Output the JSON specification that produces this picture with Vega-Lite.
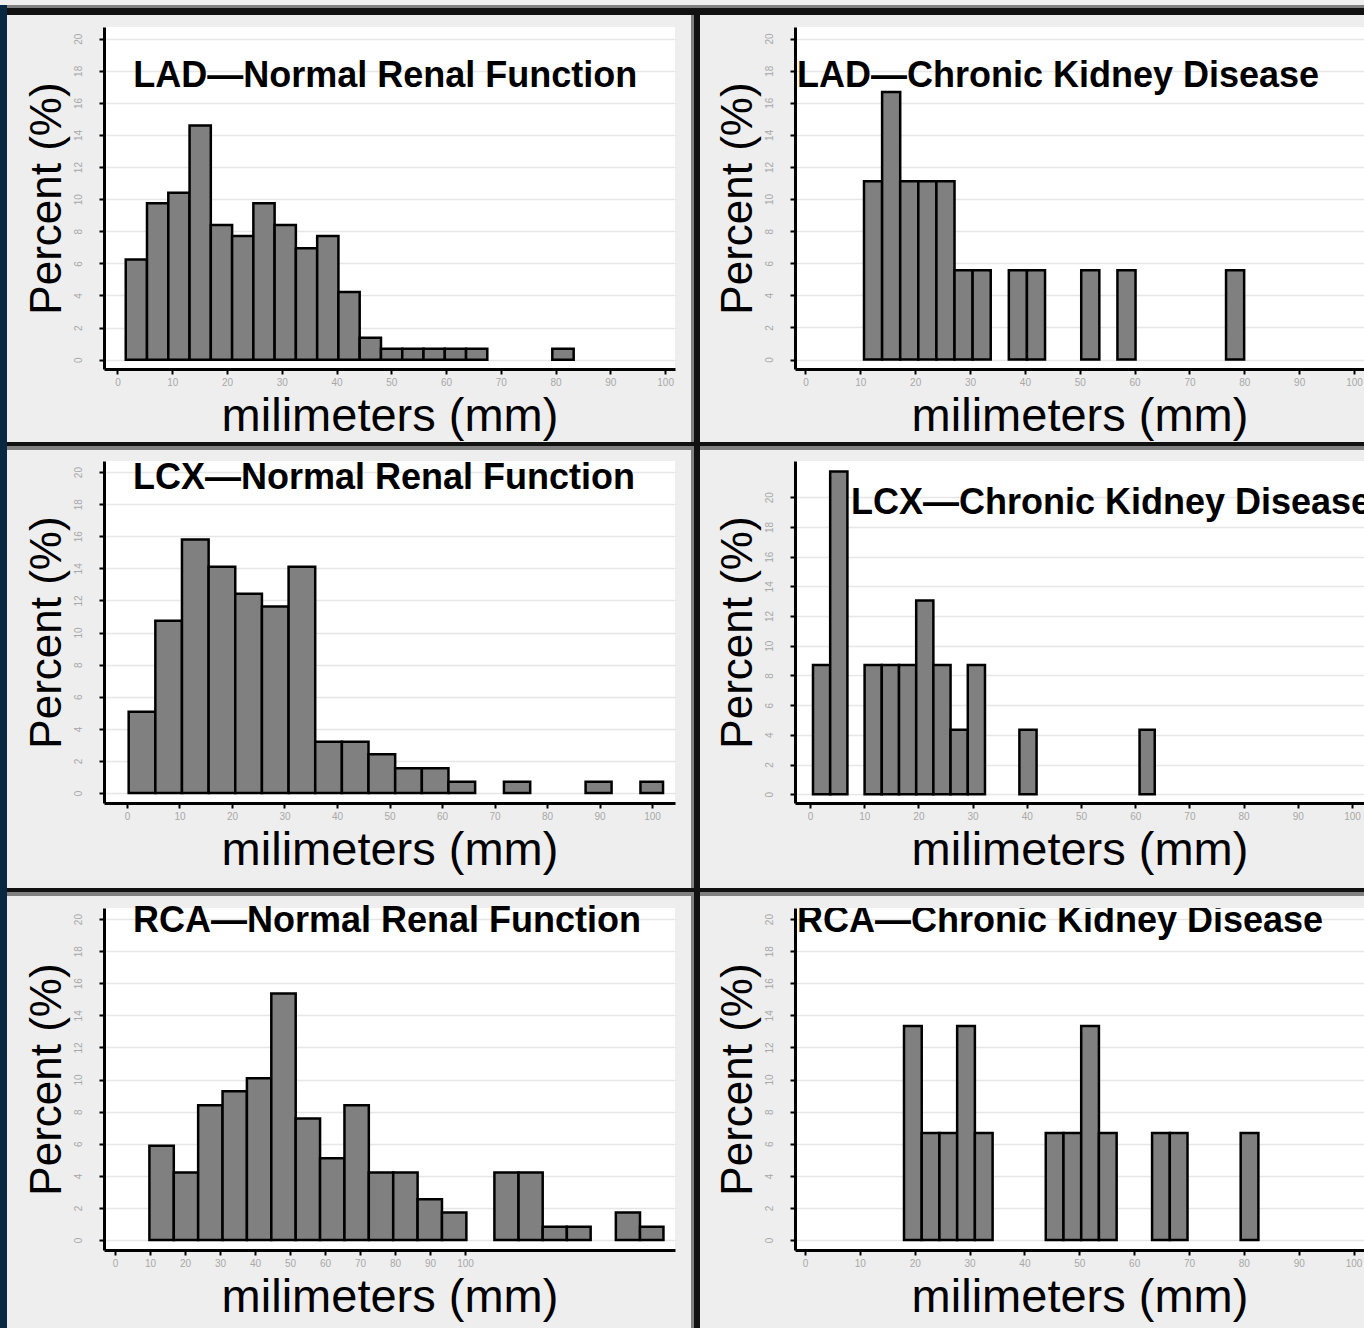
{
"$schema": "https://vega.github.io/schema/vega-lite/v6.json",
"background": "#eeeeee",
"padding": 0,
"data": {"values": [{}]},
"columns": 8,
"spacing": 0,
"bounds": "flush",
"align": "each",
"config": {
 "view": {"stroke": null},
 "axis": {"domainColor": "#000000", "domainWidth": 3, "tickColor": "#000000", "tickWidth": 2, "tickSize": 5, "labelColor": "#a8a8a8", "labelFont": "Liberation Sans", "labelFontSize": 10, "titleFont": "Liberation Sans", "titleFontWeight": "normal", "titleColor": "#000000", "gridColor": "#e6e6e6", "gridWidth": 1.5, "labelOverlap": false, "labelFlush": false},
 "axisX": {"grid": false, "tickCount": 12, "labelPadding": 8, "labelBaseline": "middle", "labelAngle": 0, "titleFontSize": 47, "titleBaseline": "alphabetic", "titleY": 61},
 "axisY": {"grid": true, "tickCount": 12, "labelAngle": -90, "labelAlign": "center", "labelBaseline": "middle", "labelPadding": 21, "titleFontSize": 44, "titleBaseline": "alphabetic", "titleX": -44}
},
"concat": [
 {"width":7,"height":3,"view":{"fill":"#0a2742"},"mark":{"type":"text","text":""}},
 {"width":97,"height":3,"view":{"fill":"#808080"},"mark":{"type":"text","text":""}},
 {"width":571,"height":3,"view":{"fill":"#808080"},"mark":{"type":"text","text":""}},
 {"width":16,"height":3,"view":{"fill":"#808080"},"mark":{"type":"text","text":""}},
 {"width":3,"height":3,"view":{"fill":"#808080"},"mark":{"type":"text","text":""}},
 {"width":6,"height":3,"view":{"fill":"#808080"},"mark":{"type":"text","text":""}},
 {"width":95,"height":3,"view":{"fill":"#808080"},"mark":{"type":"text","text":""}},
 {"width":569,"height":3,"view":{"fill":"#808080"},"mark":{"type":"text","text":""}},

 {"width":7,"height":7,"view":{"fill":"#0a2742"},"mark":{"type":"text","text":""}},
 {"width":97,"height":7,"view":{"fill":"#111111"},"mark":{"type":"text","text":""}},
 {"width":571,"height":7,"view":{"fill":"#111111"},"mark":{"type":"text","text":""}},
 {"width":16,"height":7,"view":{"fill":"#111111"},"mark":{"type":"text","text":""}},
 {"width":3,"height":7,"view":{"fill":"#111111"},"mark":{"type":"text","text":""}},
 {"width":6,"height":7,"view":{"fill":"#111111"},"mark":{"type":"text","text":""}},
 {"width":95,"height":7,"view":{"fill":"#111111"},"mark":{"type":"text","text":""}},
 {"width":569,"height":7,"view":{"fill":"#111111"},"mark":{"type":"text","text":""}},

 {"width":7,"height":12,"view":{"fill":"#0a2742"},"mark":{"type":"text","text":""}},
 {"width":1,"height":1,"mark":{"type":"text","text":""}},
 {"width":1,"height":1,"mark":{"type":"text","text":""}},
 {"width":1,"height":1,"mark":{"type":"text","text":""}},
 {"width":3,"height":12,"view":{"fill":"#808080"},"mark":{"type":"text","text":""}},
 {"width":6,"height":12,"view":{"fill":"#111111"},"mark":{"type":"text","text":""}},
 {"width":1,"height":1,"mark":{"type":"text","text":""}},
 {"width":1,"height":1,"mark":{"type":"text","text":""}},

 {"width":7,"height":342,"view":{"fill":"#0a2742"},"mark":{"type":"text","text":""}},
 {"width":1,"height":1,"mark":{"type":"text","text":""}},
 {"width":571,"height":342,"view":{"fill":"#ffffff"},
  "data":{"values":[{"start":1.52,"end":5.40,"pct":6.24},{"start":5.40,"end":9.29,"pct":9.75},{"start":9.29,"end":13.17,"pct":10.4},{"start":13.17,"end":17.05,"pct":14.6},{"start":17.05,"end":20.94,"pct":8.4},{"start":20.94,"end":24.82,"pct":7.7},{"start":24.82,"end":28.70,"pct":9.75},{"start":28.70,"end":32.58,"pct":8.4},{"start":32.58,"end":36.47,"pct":6.94},{"start":36.47,"end":40.35,"pct":7.7},{"start":40.35,"end":44.23,"pct":4.22},{"start":44.23,"end":48.12,"pct":1.37},{"start":48.12,"end":52.0,"pct":0.68},{"start":52.0,"end":55.88,"pct":0.68},{"start":55.88,"end":59.77,"pct":0.68},{"start":59.77,"end":63.65,"pct":0.68},{"start":63.65,"end":67.53,"pct":0.68},{"start":79.4,"end":83.3,"pct":0.68}]},
  "layer":[
   {"mark":{"type":"rect","fill":"#808080","stroke":"#000000","strokeWidth":2.5},
    "encoding":{
     "x":{"field":"start","type":"quantitative","scale":{"domain":[-2.45,101.8],"nice":false,"zero":false},"axis":{"title":"milimeters (mm)","values":[0,10,20,30,40,50,60,70,80,90,100]}},
     "x2":{"field":"end"},
     "y":{"field":"pct","type":"quantitative","scale":{"domain":[-0.58,20.73],"nice":false,"zero":false},"axis":{"title":"Percent (%)","values":[0,2,4,6,8,10,12,14,16,18,20]}},
     "y2":{"datum":0}}},
   {"data":{"values":[{"label":"LAD—Normal Renal Function"}]},
    "mark":{"type":"text","align":"left","baseline":"alphabetic","font":"Liberation Sans","fontWeight":"bold","fontSize":36,"color":"#000000"},
    "encoding":{"text":{"field":"label"},"x":{"datum":2.9},"y":{"datum":16.99}}}
  ]},
 {"width":1,"height":1,"mark":{"type":"text","text":""}},
 {"width":3,"height":342,"view":{"fill":"#808080"},"mark":{"type":"text","text":""}},
 {"width":6,"height":342,"view":{"fill":"#111111"},"mark":{"type":"text","text":""}},
 {"width":1,"height":1,"mark":{"type":"text","text":""}},
 {"width":569,"height":342,"view":{"fill":"#ffffff"},
  "data":{"values":[{"start":10.67,"end":13.97,"pct":11.11},{"start":13.97,"end":17.27,"pct":16.67},{"start":17.27,"end":20.57,"pct":11.11},{"start":20.57,"end":23.87,"pct":11.11},{"start":23.87,"end":27.17,"pct":11.11},{"start":27.17,"end":30.47,"pct":5.56},{"start":30.47,"end":33.77,"pct":5.56},{"start":37.07,"end":40.37,"pct":5.56},{"start":40.37,"end":43.67,"pct":5.56},{"start":50.27,"end":53.57,"pct":5.56},{"start":56.87,"end":60.17,"pct":5.56},{"start":76.67,"end":79.97,"pct":5.56}]},
  "layer":[
   {"mark":{"type":"rect","fill":"#808080","stroke":"#000000","strokeWidth":2.5},
    "encoding":{
     "x":{"field":"start","type":"quantitative","scale":{"domain":[-1.91,101.82],"nice":false,"zero":false},"axis":{"title":"milimeters (mm)","values":[0,10,20,30,40,50,60,70,80,90,100]}},
     "x2":{"field":"end"},
     "y":{"field":"pct","type":"quantitative","scale":{"domain":[-0.59,20.72],"nice":false,"zero":false},"axis":{"title":"Percent (%)","values":[0,2,4,6,8,10,12,14,16,18,20]}},
     "y2":{"datum":0}}},
   {"data":{"values":[{"label":"LAD—Chronic Kidney Disease"}]},
    "mark":{"type":"text","align":"left","baseline":"alphabetic","font":"Liberation Sans","fontWeight":"bold","fontSize":36,"color":"#000000","clip":true},
    "encoding":{"text":{"field":"label"},"x":{"datum":-1.55},"y":{"datum":16.98}}}
  ]},

 {"width":7,"height":73,"view":{"fill":"#0a2742"},"mark":{"type":"text","text":""}},
 {"width":1,"height":1,"mark":{"type":"text","text":""}},
 {"width":1,"height":1,"mark":{"type":"text","text":""}},
 {"width":1,"height":1,"mark":{"type":"text","text":""}},
 {"width":3,"height":73,"view":{"fill":"#808080"},"mark":{"type":"text","text":""}},
 {"width":6,"height":73,"view":{"fill":"#111111"},"mark":{"type":"text","text":""}},
 {"width":1,"height":1,"mark":{"type":"text","text":""}},
 {"width":1,"height":1,"mark":{"type":"text","text":""}},

 {"width":7,"height":4,"view":{"fill":"#0a2742"},"mark":{"type":"text","text":""}},
 {"width":97,"height":4,"view":{"fill":"#111111"},"mark":{"type":"text","text":""}},
 {"width":571,"height":4,"view":{"fill":"#111111"},"mark":{"type":"text","text":""}},
 {"width":16,"height":4,"view":{"fill":"#111111"},"mark":{"type":"text","text":""}},
 {"width":3,"height":4,"view":{"fill":"#111111"},"mark":{"type":"text","text":""}},
 {"width":6,"height":4,"view":{"fill":"#111111"},"mark":{"type":"text","text":""}},
 {"width":95,"height":4,"view":{"fill":"#111111"},"mark":{"type":"text","text":""}},
 {"width":569,"height":4,"view":{"fill":"#111111"},"mark":{"type":"text","text":""}},

 {"width":7,"height":4,"view":{"fill":"#0a2742"},"mark":{"type":"text","text":""}},
 {"width":97,"height":4,"view":{"fill":"#808080"},"mark":{"type":"text","text":""}},
 {"width":571,"height":4,"view":{"fill":"#808080"},"mark":{"type":"text","text":""}},
 {"width":16,"height":4,"view":{"fill":"#808080"},"mark":{"type":"text","text":""}},
 {"width":3,"height":4,"view":{"fill":"#808080"},"mark":{"type":"text","text":""}},
 {"width":6,"height":4,"view":{"fill":"#111111"},"mark":{"type":"text","text":""}},
 {"width":95,"height":4,"view":{"fill":"#808080"},"mark":{"type":"text","text":""}},
 {"width":569,"height":4,"view":{"fill":"#808080"},"mark":{"type":"text","text":""}},

 {"width":7,"height":11,"view":{"fill":"#0a2742"},"mark":{"type":"text","text":""}},
 {"width":1,"height":1,"mark":{"type":"text","text":""}},
 {"width":1,"height":1,"mark":{"type":"text","text":""}},
 {"width":1,"height":1,"mark":{"type":"text","text":""}},
 {"width":3,"height":11,"view":{"fill":"#808080"},"mark":{"type":"text","text":""}},
 {"width":6,"height":11,"view":{"fill":"#111111"},"mark":{"type":"text","text":""}},
 {"width":1,"height":1,"mark":{"type":"text","text":""}},
 {"width":1,"height":1,"mark":{"type":"text","text":""}},

 {"width":7,"height":342,"view":{"fill":"#0a2742"},"mark":{"type":"text","text":""}},
 {"width":1,"height":1,"mark":{"type":"text","text":""}},
 {"width":571,"height":342,"view":{"fill":"#ffffff"},
  "data":{"values":[{"start":0.32,"end":5.40,"pct":5.07},{"start":5.40,"end":10.47,"pct":10.74},{"start":10.47,"end":15.55,"pct":15.8},{"start":15.55,"end":20.62,"pct":14.1},{"start":20.62,"end":25.70,"pct":12.42},{"start":25.70,"end":30.78,"pct":11.63},{"start":30.78,"end":35.85,"pct":14.1},{"start":35.85,"end":40.93,"pct":3.2},{"start":40.93,"end":46.0,"pct":3.2},{"start":46.0,"end":51.08,"pct":2.41},{"start":51.08,"end":56.16,"pct":1.54},{"start":56.16,"end":61.23,"pct":1.54},{"start":61.23,"end":66.31,"pct":0.71},{"start":71.8,"end":76.8,"pct":0.71},{"start":87.35,"end":92.3,"pct":0.71},{"start":97.8,"end":102.1,"pct":0.71}]},
  "layer":[
   {"mark":{"type":"rect","fill":"#808080","stroke":"#000000","strokeWidth":2.5},
    "encoding":{
     "x":{"field":"start","type":"quantitative","scale":{"domain":[-4.38,104.38],"nice":false,"zero":false},"axis":{"title":"milimeters (mm)","values":[0,10,20,30,40,50,60,70,80,90,100]}},
     "x2":{"field":"end"},
     "y":{"field":"pct","type":"quantitative","scale":{"domain":[-0.62,20.69],"nice":false,"zero":false},"axis":{"title":"Percent (%)","values":[0,2,4,6,8,10,12,14,16,18,20]}},
     "y2":{"datum":0}}},
   {"data":{"values":[{"label":"LCX—Normal Renal Function"}]},
    "mark":{"type":"text","align":"left","baseline":"alphabetic","font":"Liberation Sans","fontWeight":"bold","fontSize":36,"color":"#000000"},
    "encoding":{"text":{"field":"label"},"x":{"datum":1.14},"y":{"datum":18.94}}}
  ]},
 {"width":1,"height":1,"mark":{"type":"text","text":""}},
 {"width":3,"height":342,"view":{"fill":"#808080"},"mark":{"type":"text","text":""}},
 {"width":6,"height":342,"view":{"fill":"#111111"},"mark":{"type":"text","text":""}},
 {"width":1,"height":1,"mark":{"type":"text","text":""}},
 {"width":569,"height":342,"view":{"fill":"#ffffff"},
  "data":{"values":[{"start":0.55,"end":3.72,"pct":8.70},{"start":3.72,"end":6.90,"pct":21.74},{"start":10.07,"end":13.24,"pct":8.70},{"start":13.24,"end":16.42,"pct":8.70},{"start":16.42,"end":19.59,"pct":8.70},{"start":19.59,"end":22.76,"pct":13.04},{"start":22.76,"end":25.93,"pct":8.70},{"start":25.93,"end":29.11,"pct":4.35},{"start":29.11,"end":32.28,"pct":8.70},{"start":38.63,"end":41.80,"pct":4.35},{"start":60.8,"end":63.6,"pct":4.35}]},
  "layer":[
   {"mark":{"type":"rect","fill":"#808080","stroke":"#000000","strokeWidth":2.5},
    "encoding":{
     "x":{"field":"start","type":"quantitative","scale":{"domain":[-2.77,102.21],"nice":false,"zero":false},"axis":{"title":"milimeters (mm)","values":[0,10,20,30,40,50,60,70,80,90,100]}},
     "x2":{"field":"end"},
     "y":{"field":"pct","type":"quantitative","scale":{"domain":[-0.59,22.44],"nice":false,"zero":false},"axis":{"title":"Percent (%)","values":[0,2,4,6,8,10,12,14,16,18,20]}},
     "y2":{"datum":0}}},
   {"data":{"values":[{"label":"LCX—Chronic Kidney Disease"}]},
    "mark":{"type":"text","align":"left","baseline":"alphabetic","font":"Liberation Sans","fontWeight":"bold","fontSize":36,"color":"#000000","clip":true},
    "encoding":{"text":{"field":"label"},"x":{"datum":7.56},"y":{"datum":18.88}}}
  ]},

 {"width":7,"height":85,"view":{"fill":"#0a2742"},"mark":{"type":"text","text":""}},
 {"width":1,"height":1,"mark":{"type":"text","text":""}},
 {"width":1,"height":1,"mark":{"type":"text","text":""}},
 {"width":1,"height":1,"mark":{"type":"text","text":""}},
 {"width":3,"height":85,"view":{"fill":"#808080"},"mark":{"type":"text","text":""}},
 {"width":6,"height":85,"view":{"fill":"#111111"},"mark":{"type":"text","text":""}},
 {"width":1,"height":1,"mark":{"type":"text","text":""}},
 {"width":1,"height":1,"mark":{"type":"text","text":""}},

 {"width":7,"height":4,"view":{"fill":"#0a2742"},"mark":{"type":"text","text":""}},
 {"width":97,"height":4,"view":{"fill":"#111111"},"mark":{"type":"text","text":""}},
 {"width":571,"height":4,"view":{"fill":"#111111"},"mark":{"type":"text","text":""}},
 {"width":16,"height":4,"view":{"fill":"#111111"},"mark":{"type":"text","text":""}},
 {"width":3,"height":4,"view":{"fill":"#111111"},"mark":{"type":"text","text":""}},
 {"width":6,"height":4,"view":{"fill":"#111111"},"mark":{"type":"text","text":""}},
 {"width":95,"height":4,"view":{"fill":"#111111"},"mark":{"type":"text","text":""}},
 {"width":569,"height":4,"view":{"fill":"#111111"},"mark":{"type":"text","text":""}},

 {"width":7,"height":4,"view":{"fill":"#0a2742"},"mark":{"type":"text","text":""}},
 {"width":97,"height":4,"view":{"fill":"#808080"},"mark":{"type":"text","text":""}},
 {"width":571,"height":4,"view":{"fill":"#808080"},"mark":{"type":"text","text":""}},
 {"width":16,"height":4,"view":{"fill":"#808080"},"mark":{"type":"text","text":""}},
 {"width":3,"height":4,"view":{"fill":"#808080"},"mark":{"type":"text","text":""}},
 {"width":6,"height":4,"view":{"fill":"#111111"},"mark":{"type":"text","text":""}},
 {"width":95,"height":4,"view":{"fill":"#808080"},"mark":{"type":"text","text":""}},
 {"width":569,"height":4,"view":{"fill":"#808080"},"mark":{"type":"text","text":""}},

 {"width":7,"height":12,"view":{"fill":"#0a2742"},"mark":{"type":"text","text":""}},
 {"width":1,"height":1,"mark":{"type":"text","text":""}},
 {"width":1,"height":1,"mark":{"type":"text","text":""}},
 {"width":1,"height":1,"mark":{"type":"text","text":""}},
 {"width":3,"height":12,"view":{"fill":"#808080"},"mark":{"type":"text","text":""}},
 {"width":6,"height":12,"view":{"fill":"#111111"},"mark":{"type":"text","text":""}},
 {"width":1,"height":1,"mark":{"type":"text","text":""}},
 {"width":1,"height":1,"mark":{"type":"text","text":""}},

 {"width":7,"height":342,"view":{"fill":"#0a2742"},"mark":{"type":"text","text":""}},
 {"width":1,"height":1,"mark":{"type":"text","text":""}},
 {"width":571,"height":342,"view":{"fill":"#ffffff"},
  "data":{"values":[{"start":9.83,"end":16.80,"pct":5.87},{"start":16.80,"end":23.76,"pct":4.21},{"start":23.76,"end":30.73,"pct":8.4},{"start":30.73,"end":37.69,"pct":9.27},{"start":37.69,"end":44.66,"pct":10.08},{"start":44.66,"end":51.63,"pct":15.36},{"start":51.63,"end":58.59,"pct":7.58},{"start":58.59,"end":65.56,"pct":5.1},{"start":65.56,"end":72.52,"pct":8.4},{"start":72.52,"end":79.49,"pct":4.21},{"start":79.49,"end":86.46,"pct":4.21},{"start":86.46,"end":93.42,"pct":2.54},{"start":93.42,"end":100.39,"pct":1.71},{"start":108.4,"end":115.3,"pct":4.21},{"start":115.3,"end":122.2,"pct":4.21},{"start":122.2,"end":129.1,"pct":0.83},{"start":129.1,"end":135.9,"pct":0.83},{"start":143.1,"end":150.0,"pct":1.71},{"start":150.0,"end":156.7,"pct":0.83}]},
  "layer":[
   {"mark":{"type":"rect","fill":"#808080","stroke":"#000000","strokeWidth":2.5},
    "encoding":{
     "x":{"field":"start","type":"quantitative","scale":{"domain":[-3.14,160.0],"nice":false,"zero":false},"axis":{"title":"milimeters (mm)","values":[0,10,20,30,40,50,60,70,80,90,100]}},
     "x2":{"field":"end"},
     "y":{"field":"pct","type":"quantitative","scale":{"domain":[-0.62,20.69],"nice":false,"zero":false},"axis":{"title":"Percent (%)","values":[0,2,4,6,8,10,12,14,16,18,20]}},
     "y2":{"datum":0}}},
   {"data":{"values":[{"label":"RCA—Normal Renal Function"}]},
    "mark":{"type":"text","align":"left","baseline":"alphabetic","font":"Liberation Sans","fontWeight":"bold","fontSize":36,"color":"#000000"},
    "encoding":{"text":{"field":"label"},"x":{"datum":5.14},"y":{"datum":19.19}}}
  ]},
 {"width":1,"height":1,"mark":{"type":"text","text":""}},
 {"width":3,"height":342,"view":{"fill":"#808080"},"mark":{"type":"text","text":""}},
 {"width":6,"height":342,"view":{"fill":"#111111"},"mark":{"type":"text","text":""}},
 {"width":1,"height":1,"mark":{"type":"text","text":""}},
 {"width":569,"height":342,"view":{"fill":"#ffffff"},
  "data":{"values":[{"start":18.05,"end":21.28,"pct":13.33},{"start":21.28,"end":24.51,"pct":6.67},{"start":24.51,"end":27.74,"pct":6.67},{"start":27.74,"end":30.97,"pct":13.33},{"start":30.97,"end":34.2,"pct":6.67},{"start":43.89,"end":47.12,"pct":6.67},{"start":47.12,"end":50.35,"pct":6.67},{"start":50.35,"end":53.58,"pct":13.33},{"start":53.58,"end":56.81,"pct":6.67},{"start":63.27,"end":66.5,"pct":6.67},{"start":66.5,"end":69.73,"pct":6.67},{"start":79.42,"end":82.65,"pct":6.67}]},
  "layer":[
   {"mark":{"type":"rect","fill":"#808080","stroke":"#000000","strokeWidth":2.5},
    "encoding":{
     "x":{"field":"start","type":"quantitative","scale":{"domain":[-1.82,101.9],"nice":false,"zero":false},"axis":{"title":"milimeters (mm)","values":[0,10,20,30,40,50,60,70,80,90,100]}},
     "x2":{"field":"end"},
     "y":{"field":"pct","type":"quantitative","scale":{"domain":[-0.62,20.69],"nice":false,"zero":false},"axis":{"title":"Percent (%)","values":[0,2,4,6,8,10,12,14,16,18,20]}},
     "y2":{"datum":0}}},
   {"data":{"values":[{"label":"RCA—Chronic Kidney Disease"}]},
    "mark":{"type":"text","align":"left","baseline":"alphabetic","font":"Liberation Sans","fontWeight":"bold","fontSize":36,"color":"#000000","clip":true},
    "encoding":{"text":{"field":"label"},"x":{"datum":-1.46},"y":{"datum":19.19}}}
  ]},

 {"width":7,"height":83,"view":{"fill":"#0a2742"},"mark":{"type":"text","text":""}},
 {"width":1,"height":1,"mark":{"type":"text","text":""}},
 {"width":1,"height":1,"mark":{"type":"text","text":""}},
 {"width":1,"height":1,"mark":{"type":"text","text":""}},
 {"width":3,"height":83,"view":{"fill":"#808080"},"mark":{"type":"text","text":""}},
 {"width":6,"height":83,"view":{"fill":"#111111"},"mark":{"type":"text","text":""}},
 {"width":1,"height":1,"mark":{"type":"text","text":""}},
 {"width":1,"height":1,"mark":{"type":"text","text":""}}
]
}
